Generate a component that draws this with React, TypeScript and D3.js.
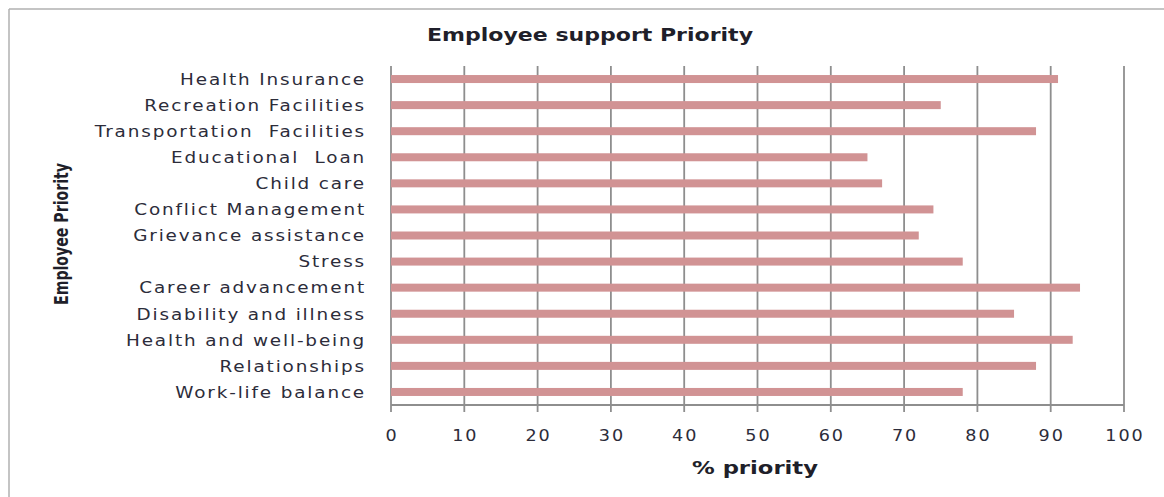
import React from "react";
import * as d3 from "d3";

const categories: string[] = [
  "Health Insurance",
  "Recreation Facilities",
  "Transportation  Facilities",
  "Educational  Loan",
  "Child care",
  "Conflict Management",
  "Grievance assistance",
  "Stress",
  "Career advancement",
  "Disability and illness",
  "Health and well-being",
  "Relationships",
  "Work-life balance",
];

const priorityValues: number[] = [91, 75, 88, 65, 67, 74, 72, 78, 94, 85, 93, 88, 78];

const xTicks: number[] = [0, 10, 20, 30, 40, 50, 60, 70, 80, 90, 100];

const chartTitle = "Employee support Priority";
const xTitle = "% priority";
const yTitle = "Employee Priority";

const W = 1164;
const H = 497;
const plotLeft = 391;
const plotRight = 1124;
const plotTop = 66;
const plotBottom = 405;
const barColor = "#d19394";
const gridColor = "#8e8e8e";
const textColor = "#2c2c3a";

export default function App() {
  const x = d3.scaleLinear().domain([0, 100]).range([plotLeft, plotRight]);
  const y = d3
    .scaleBand<string>()
    .domain(categories)
    .range([plotTop, plotBottom])
    .paddingInner(0)
    .paddingOuter(0);
  const barH = 8;
  const labelFont = "'DejaVu Sans', Verdana, sans-serif";

  return (
    <svg
      width={W}
      height={H}
      viewBox={`0 0 ${W} ${H}`}
      style={{ position: "absolute", left: 0, top: 0, background: "#fff" }}
    >
      <rect x={0} y={0} width={W} height={H} fill="#fff" />
      {/* outer frame */}
      <line x1={9} x2={W} y1={9} y2={9} stroke="#b0b0b0" strokeWidth={1.5} />
      <line x1={9} x2={9} y1={9} y2={H} stroke="#b0b0b0" strokeWidth={1.5} />

      {/* title */}
      <text
        x={590}
        y={41}
        textAnchor="middle"
        fontFamily={labelFont}
        fontWeight="bold"
        fontSize={18}
        fill="#1f1f2a"
        textLength={326}
        lengthAdjust="spacingAndGlyphs"
      >
        {chartTitle}
      </text>

      {/* gridlines & ticks */}
      {xTicks.map((t) => (
        <line
          key={"g" + t}
          x1={x(t)}
          x2={x(t)}
          y1={plotTop}
          y2={plotBottom + 7}
          stroke={gridColor}
          strokeWidth={1.8}
        />
      ))}
      <line x1={plotLeft} x2={plotRight} y1={plotBottom} y2={plotBottom} stroke={gridColor} strokeWidth={1.8} />

      {/* bars */}
      {categories.map((c, i) => (
        <rect
          key={c}
          x={x(0)}
          y={(y(c) as number) + y.bandwidth() / 2 - barH / 2}
          width={x(priorityValues[i]) - x(0)}
          height={barH}
          fill={barColor}
        />
      ))}

      {/* category labels */}
      {categories.map((c) => (
        <text
          key={"l" + c}
          transform={`translate(366,${(y(c) as number) + y.bandwidth() / 2}) scale(1.15,1)`}
          dy="0.36em"
          textAnchor="end"
          fontFamily={labelFont}
          fontSize={16}
          letterSpacing={1.6}
          fill={textColor}
          style={{ whiteSpace: "pre" }}
        >
          {c}
        </text>
      ))}

      {/* tick labels */}
      {xTicks.map((t) => (
        <text
          key={"t" + t}
          transform={`translate(${x(t) + 1},435) scale(1.1,1)`}
          dy="0.36em"
          textAnchor="middle"
          fontFamily={labelFont}
          fontSize={16}
          letterSpacing={1.8}
          fill={textColor}
        >
          {t}
        </text>
      ))}

      {/* x title */}
      <text
        x={755}
        y={474}
        textAnchor="middle"
        fontFamily={labelFont}
        fontWeight="bold"
        fontSize={18}
        fill="#1f1f2a"
        textLength={126}
        lengthAdjust="spacingAndGlyphs"
      >
        {xTitle}
      </text>

      {/* y title */}
      <text
        transform="translate(68,234) rotate(-90)"
        textAnchor="middle"
        fontFamily={labelFont}
        fontWeight="bold"
        fontSize={19}
        fill="#1f1f2a"
        textLength={142}
        lengthAdjust="spacingAndGlyphs"
      >
        {yTitle}
      </text>
    </svg>
  );
}
